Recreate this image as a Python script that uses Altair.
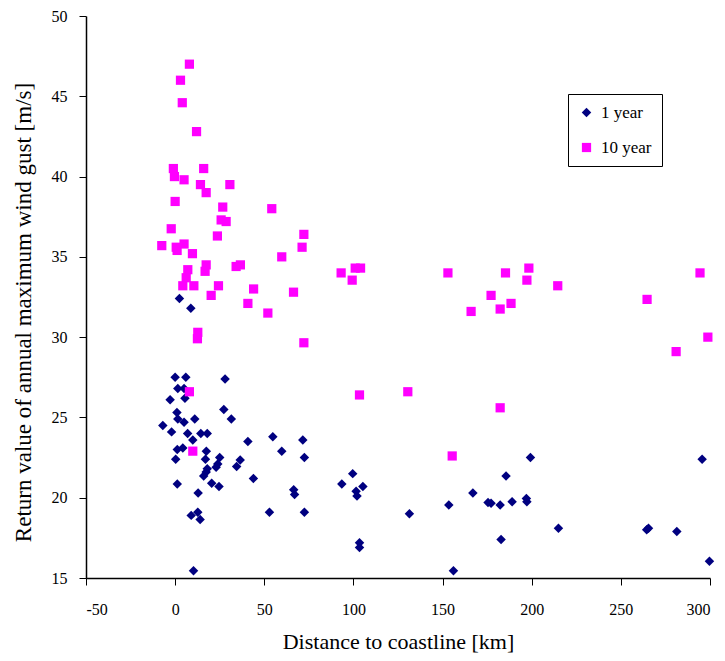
import altair as alt
import pandas as pd

# 1-year return values
one_x = [2.4, 8.8, 0, 6, 1.5, 5, -2.8, 5.5, 28, 27.3, 31.5, 1, 1.5, 11, 5, -6.9, -2, 7,
         14.4, 18, 9.9, 40.8, 1.2, 4.3, 17.5, 0.3, 17, 25, 23.9, 36.5, 34.5, 18, 23, 16,
         17.4, 20.5, 24.6, 1.2, 12.9, 9, 12.7, 14, 10.3, 43.9, 54.8, 71.6, 59.8, 72.5,
         66.5, 67, 52.9, 72.5, 99.6, 93.5, 105.3, 101.5, 102, 103.4, 103.4, 131.4, 153.5,
         156.1, 167, 175.5, 177.2, 182.3, 189, 197, 197.3, 185.6, 199.3, 182.8, 215,
         264.5, 265.5, 281.4, 295.6, 299.7]
one_y = [32.4, 31.8, 27.5, 27.5, 26.8, 26.8, 26.1, 26.2, 27.4, 25.5, 24.9, 25.3, 24.9, 24.9,
         24.7, 24.5, 24.1, 24.0, 24.0, 24.0, 23.6, 23.5, 23.0, 23.1, 22.9, 22.4, 22.4, 22.5,
         22.1, 22.35, 21.95, 21.8, 21.9, 21.35, 21.6, 20.9, 20.7, 20.85, 20.3, 18.9, 19.1,
         18.65, 15.45, 21.2, 23.8, 23.6, 22.9, 22.5, 20.5, 20.2, 19.1, 19.1, 21.5, 20.85,
         20.7, 20.4, 20.1, 17.2, 16.9, 19.0, 19.55, 15.45, 20.3, 19.7, 19.65, 19.55, 19.75,
         19.95, 19.75, 21.35, 22.5, 17.4, 18.1, 18.0, 18.1, 17.9, 22.4, 16.05]

# 10-year return values
ten_x = [8, 3, 4, 12, -1, 16, -0.4, 5, 14.2, 17.4, 30.7, 0, 26.7, 25.8, 28.6, 23.7, -2.2,
         -7.5, 0.6, 5, 1.1, 9.7, 17.4, 16.8, 34.2, 36.6, 7.1, 6.2, 4.3, 10.5, 24.3, 20.2,
         40.8, 44, 54.2, 72.2, 71.2, 59.8, 93.1, 101, 104, 99.3, 66.4, 52, 153, 177.2, 166,
         185.3, 198.4, 197.3, 214.6, 182.3, 188.4, 264.7, 294.4, 182.3, 281, 298.8, 72.2,
         103.4, 130.5, 155.4, 12.7, 12.5, 8, 9.9]
ten_y = [47.0, 46.0, 44.6, 42.8, 40.5, 40.5, 40.0, 39.8, 39.5, 39.0, 39.5, 38.45, 38.1, 37.3,
         37.2, 36.3, 36.75, 35.7, 35.6, 35.8, 35.4, 35.2, 34.5, 34.1, 34.4, 34.5, 34.2, 33.7,
         33.2, 33.2, 33.2, 32.6, 32.1, 33.0, 38.0, 36.4, 35.6, 35.0, 34.0, 34.3, 34.3, 33.55,
         32.8, 31.5, 34.0, 32.6, 31.6, 34.0, 34.3, 33.55, 33.2, 31.75, 32.1, 32.35, 34.0,
         25.6, 29.1, 30.0, 29.65, 26.4, 26.6, 22.6, 30.3, 29.9, 26.6, 22.9]

series_names = ["1 year", "10 year"]
series_colors = ["#000080", "#FF00FF"]
series_shapes = ["diamond", "square"]
x_ticks = [-50, 0, 50, 100, 150, 200, 250, 300]
y_ticks = [15, 20, 25, 30, 35, 40, 45, 50]

rows = []
for x, y in zip(one_x, one_y):
    rows.append({"dist": x, "gust": y, "series": series_names[0], "ord": 0})
for x, y in zip(ten_x, ten_y):
    rows.append({"dist": x, "gust": y, "series": series_names[1], "ord": 1})
df = pd.DataFrame(rows)

font = "Liberation Serif"

chart = alt.Chart(df).mark_point(filled=True, opacity=1).encode(
    x=alt.X("dist:Q", scale=alt.Scale(domain=[-50, 300], nice=False, zero=False),
            axis=alt.Axis(values=x_ticks, title="Distance to coastline [km]",
                          labelExpr="'' + datum.value",
                          labelPadding=16, titleFontSize=22,
                          titleBaseline="alphabetic", titleY=70)),
    y=alt.Y("gust:Q", scale=alt.Scale(domain=[15, 50], nice=False, zero=False),
            axis=alt.Axis(values=y_ticks, title="Return value of annual maximum wind gust [m/s]",
                          labelPadding=12, titlePadding=16, titleFontSize=23, titleY=296)),
    color=alt.Color("series:N", scale=alt.Scale(domain=series_names, range=series_colors),
                    title=None,
                    legend=alt.Legend(orient="none", legendX=482, legendY=78, padding=10,
                                      strokeColor="black", fillColor="white",
                                      labelFont=font, labelFontSize=17, labelColor="black",
                                      symbolSize=60, rowPadding=17, labelOffset=6,
                                      symbolStrokeWidth=0)),
    shape=alt.Shape("series:N", scale=alt.Scale(domain=series_names, range=series_shapes),
                    title=None),
    size=alt.Size("series:N", scale=alt.Scale(domain=series_names, range=[90, 85]), legend=None),
    order=alt.Order("ord:Q"),
).properties(
    width=624, height=562,
    autosize=alt.AutoSizeParams(type="none"),
    padding={"left": 78, "top": 8, "right": 7, "bottom": 75},
).configure_view(
    strokeWidth=0
).configure_axis(
    grid=False, domainColor="black", tickColor="black", tickSize=7, domainWidth=1.5,
    labelFont=font, labelFontSize=16, labelColor="black",
    titleFont=font, titleFontSize=21, titleFontWeight="normal", titleColor="black",
)

chart.save("out.html", embed_options={"renderer": "svg", "actions": False})
